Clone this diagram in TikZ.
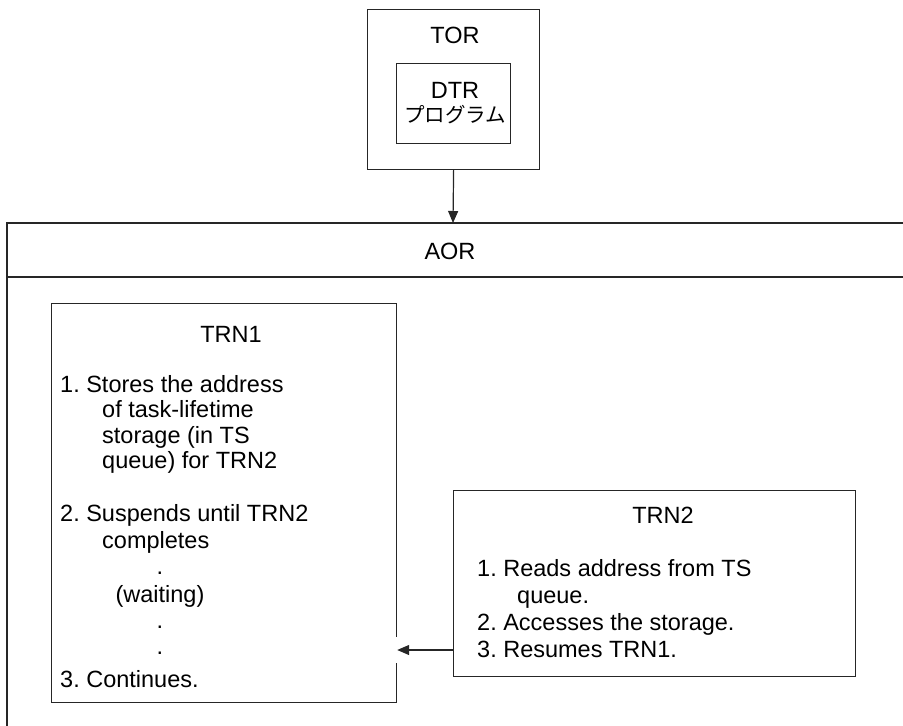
\documentclass[tikz,border=0pt]{standalone}
\usepackage{fontspec}
\setmainfont{Liberation Sans}
\newfontfamily\jpfont{Noto Sans CJK JP}
\usetikzlibrary{arrows.meta}
\frenchspacing
\begin{document}
\begin{tikzpicture}[x=1pt,y=-1pt,
  box/.style={draw=black!85, line width=1.2pt, inner sep=0pt, anchor=north west},
  txt/.style={inner sep=0pt, anchor=base west, font=\fontsize{23.5}{26}\selectfont},
  ctxt/.style={inner sep=0pt, anchor=base, font=\fontsize{23.5}{26}\selectfont},
  conn/.style={draw=black!85, line width=1.2pt, -{Triangle[length=12pt,width=10pt]}}]
\useasboundingbox (0,0) rectangle (903,726);
% TOR
\node[box, minimum width=172pt, minimum height=160pt] (tor) at (367,9) {};
\node[ctxt] (torlbl) at (455,43) {TOR};
\node[box, minimum width=114pt, minimum height=80pt] (dtr) at (396,63) {};
\node[ctxt] (dtrlbl) at (455,98) {DTR};
\node[ctxt, font=\jpfont\fontsize{20.5}{24}\selectfont] (dtrjp) at (455,122) {プログラム};
% AOR
\draw[draw=black!85, line width=1.2pt] (7,726) -- (7,223) -- (903,223);
\draw[draw=black!85, line width=1.2pt] (7,277) -- (903,277);
\coordinate (aortop) at (453,223);
\node[ctxt] (aorlbl) at (450,259) {AOR};
\draw[conn] (tor.south) -- (aortop);
% TRN1
\node[box, minimum width=345pt, minimum height=399pt] (trn1) at (51,303) {};
\node[ctxt] (t1lbl) at (231,342) {TRN1};
\node[txt] (t1a) at (60,392) {1. Stores the address};
\node[txt] (t1b) at (102,417) {of task-lifetime};
\node[txt] (t1c) at (102,443) {storage (in TS};
\node[txt] (t1d) at (102,468) {queue) for TRN2};
\node[txt] (t1e) at (60,521) {2. Suspends until TRN2};
\node[txt] (t1f) at (102,548) {completes};
\node[ctxt] (t1g) at (160,574) {.};
\node[ctxt] (t1h) at (160,602) {(waiting)};
\node[ctxt] (t1i) at (160,628) {.};
\node[ctxt] (t1j) at (160,654) {.};
\node[txt] (t1k) at (60,687) {3. Continues.};
% TRN2
\node[box, minimum width=402pt, minimum height=186pt] (trn2) at (453,490) {};
\node[ctxt] (t2lbl) at (663,523) {TRN2};
\node[txt] (t2a) at (477,576) {1. Reads address from TS};
\node[txt] (t2b) at (517,603) {queue.};
\node[txt] (t2c) at (477,630) {2. Accesses the storage.};
\node[txt] (t2d) at (477,657) {3. Resumes TRN1.};
% connector TRN2 -> TRN1
\coordinate (gap) at (396,650);
\fill[white] (392,637) rectangle (401,663);
\draw[conn] (trn2.west |- gap) -- (trn1.east |- gap);
\end{tikzpicture}
\end{document}
